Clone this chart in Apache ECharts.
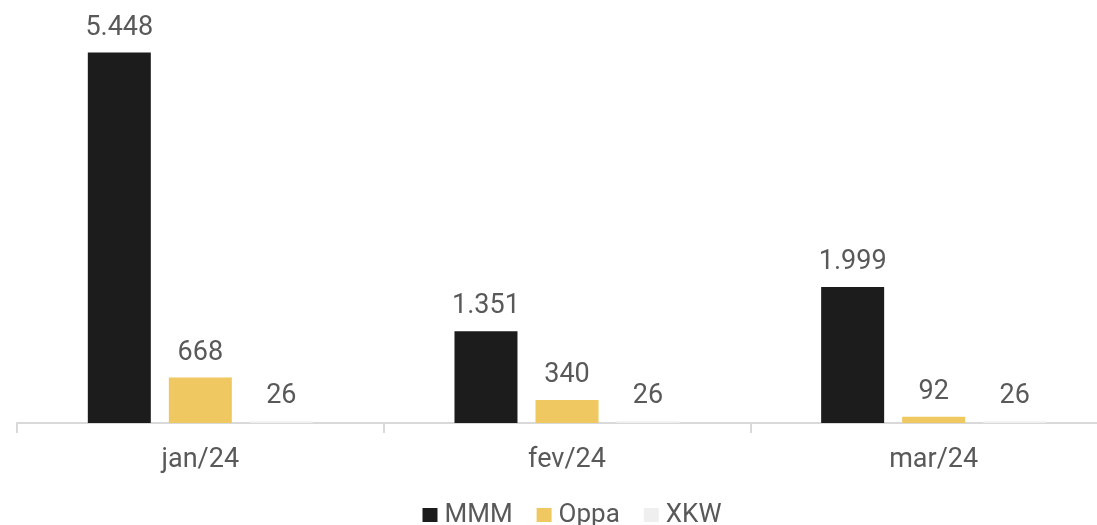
<!DOCTYPE html>
<html>
<head>
<meta charset="utf-8">
<script src="https://cdn.jsdelivr.net/npm/echarts@6/dist/echarts.min.js"></script>
<style>html,body{margin:0;padding:0;background:#fff;overflow:hidden;width:1097px;height:525px}#c{width:1144px;height:525px}</style>
</head>
<body>
<div id="c"></div>
<script>
const categories = ['jan/24', 'fev/24', 'mar/24'];
const seriesNames = ['MMM', 'Oppa', 'XKW'];
const mmm = [5448, 1351, 1999];
const oppa = [668, 340, 92];
const xkw = [26, 26, 26];
const colors = ['#1c1c1c', '#efc862', '#efefef'];

function fmt(v) { return String(v).replace(/\B(?=(\d{3})+(?!\d))/g, '.'); }

const chart = echarts.init(document.getElementById('c'), null, {renderer: 'canvas'});
const font = 'Roboto, sans-serif';
const mk = (name, data, color) => ({
  name, type: 'bar', data,
  barWidth: 63,
  barGap: '28.6%',
  itemStyle: {color},
  label: {show: true, position: 'top', distance: 11, formatter: p => fmt(p.value),
          color: '#595959', fontSize: 27, fontFamily: font}
});
chart.setOption({
  animation: false,
  color: colors,
  grid: {left: 17, top: 15, right: 27, bottom: 102, containLabel: false},
  legend: {
    bottom: -8, itemWidth: 15, itemHeight: 14, itemGap: 24, icon: 'rect',
    textStyle: {color: '#595959', fontSize: 26, fontFamily: font, padding: [0, 0, 0, 2]},
    data: seriesNames
  },
  xAxis: {
    type: 'category', data: categories,
    axisLine: {lineStyle: {color: '#d9d9d9', width: 2}},
    axisTick: {show: true, length: 10, lineStyle: {color: '#d9d9d9', width: 2}},
    axisLabel: {color: '#595959', fontSize: 27, fontFamily: font, margin: 24}
  },
  yAxis: {type: 'value', min: 0, max: 6000, show: false, splitLine: {show: false}},
  series: [mk(seriesNames[0], mmm, colors[0]), mk(seriesNames[1], oppa, colors[1]), mk(seriesNames[2], xkw, colors[2])]
});
</script>
</body>
</html>
